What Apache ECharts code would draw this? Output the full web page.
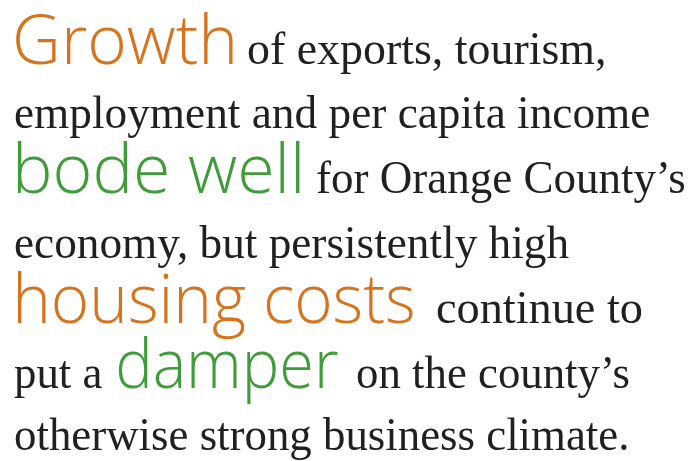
<!DOCTYPE html>
<html>
<head>
<meta charset="utf-8">
<script src="https://cdn.jsdelivr.net/npm/echarts@6/dist/echarts.min.js"></script>
<style>
  html, body { margin: 0; padding: 0; background: #fff; }
  #main { width: 694px; height: 461px; }
</style>
</head>
<body>
<div id="main"></div>
<script>
// text pieces in reading order
var phrases = [
    'Growth', 'of exports, tourism,',
    'employment and per capita income',
    'bode well', 'for Orange County\u2019s',
    'economy, but persistently high',
    'housing costs', 'continue to',
    'put a', 'damper', 'on the county\u2019s',
    'otherwise strong business climate.'
];
// which voice each piece is set in
var phraseTone = [
    'orange', 'body',
    'body',
    'green', 'body',
    'body',
    'orange', 'body',
    'body', 'green', 'body',
    'body'
];

// layout: ink left, ink right, baseline (px) for each piece
var inkBoxes = [
    [16, 233, 64], [248, 604, 64],
    [15, 649, 128],
    [17, 300, 193], [317, 685, 193],
    [15, 569, 258],
    [17, 413, 323], [437, 642, 323],
    [14, 102, 388], [118, 338, 388], [357, 629, 388],
    [15, 627, 450]
];

var fonts = {
    sans: { family: "'Open Sans', 'Noto Sans', sans-serif", size: 68, weight: 350 },
    serif: { family: "'Liberation Serif', 'DejaVu Serif', serif", size: 46, weight: 'normal' }
};
var tones = { orange: '#d5731e', green: '#409b3a', body: '#231f20' };

var chart = echarts.init(document.getElementById('main'), null, { renderer: 'canvas' });
var ctx = document.createElement('canvas').getContext('2d');

function fontString(f) {
    return f.weight + ' ' + f.size + 'px ' + f.family;
}
function measure(text, font, base) {
    ctx.font = font;
    ctx.textBaseline = base;
    ctx.textAlign = 'left';
    return ctx.measureText(text);
}

function build() {
    var elements = phrases.map(function (t, i) {
        var tone = phraseTone[i];
        var font = fontString(tone === 'body' ? fonts.serif : fonts.sans);
        var a = measure(t, font, 'alphabetic');
        var m = measure(t, font, 'middle');
        var box = inkBoxes[i];
        var inkW = a.actualBoundingBoxLeft + a.actualBoundingBoxRight;
        var sx = (box[1] - box[0]) / inkW;
        return {
            type: 'text',
            silent: true,
            x: box[0] + a.actualBoundingBoxLeft * sx,
            y: box[2] - a.actualBoundingBoxAscent + m.actualBoundingBoxAscent,
            scaleX: sx,
            style: {
                text: t,
                font: font,
                fill: tones[tone],
                textAlign: 'left',
                verticalAlign: 'middle',
                textVerticalAlign: 'middle'
            }
        };
    });
    chart.setOption({
        backgroundColor: '#fff',
        animation: false,
        graphic: { elements: elements }
    });
}

if (document.fonts && document.fonts.load) {
    Promise.all([
        document.fonts.load(fontString(fonts.sans)),
        document.fonts.load(fontString(fonts.serif))
    ]).then(build, build);
} else {
    build();
}
</script>
</body>
</html>
